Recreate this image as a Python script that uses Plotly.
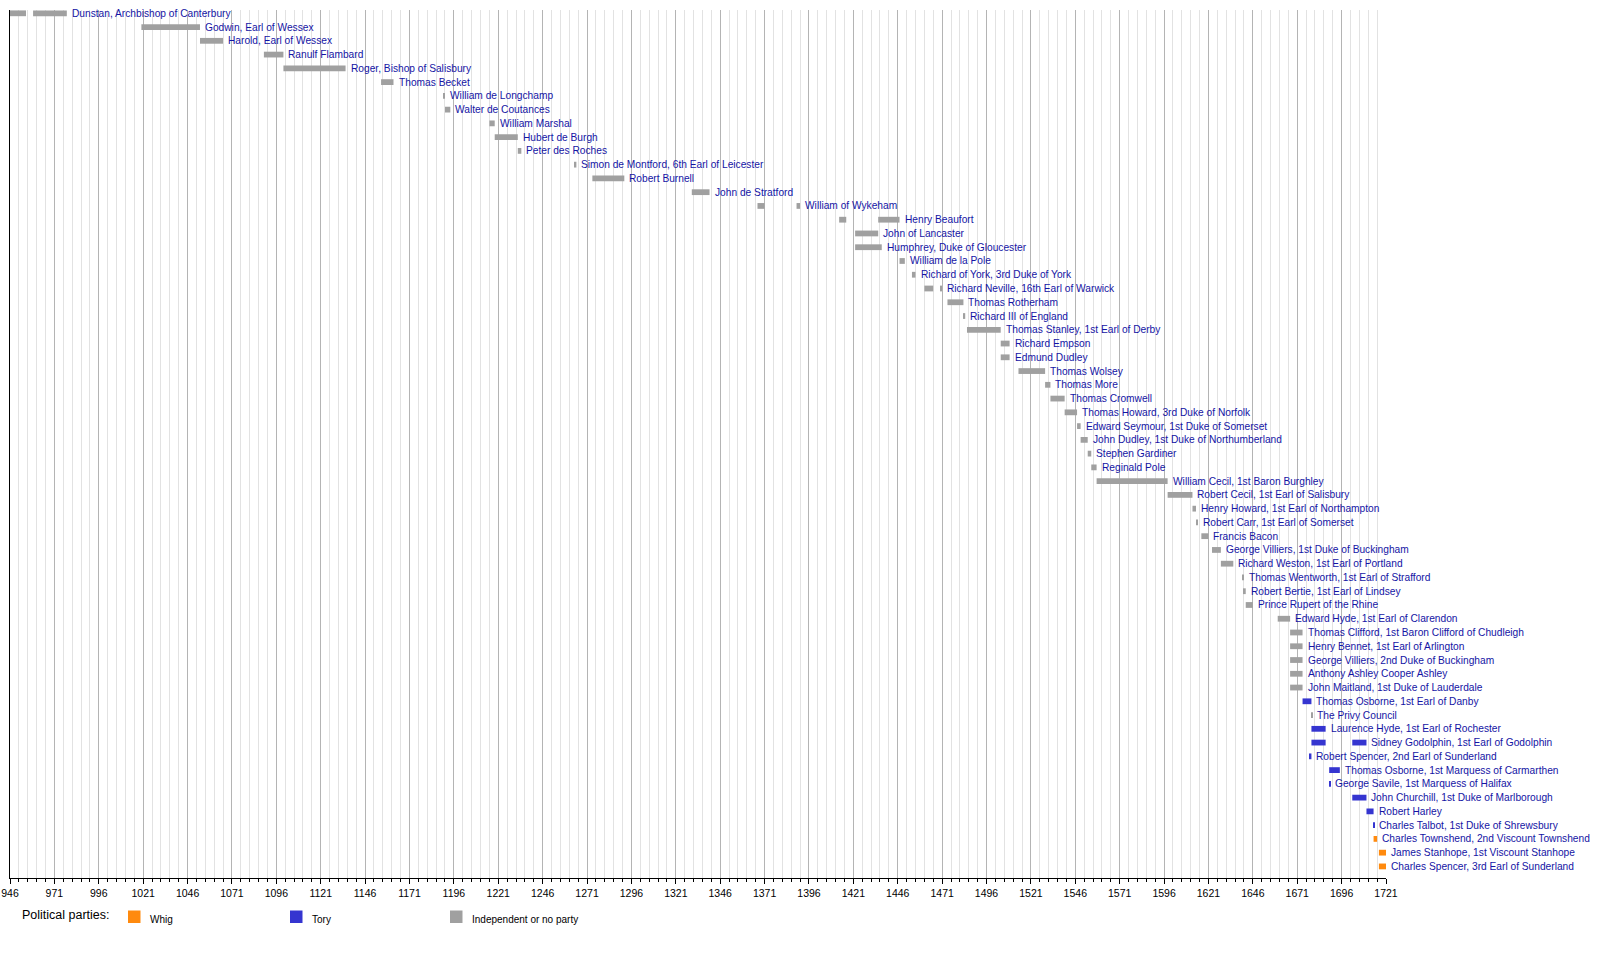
import plotly.graph_objects as go

# leaders, top to bottom; each has one or more terms (start, end) and a party
names = [
    "Dunstan, Archbishop of Canterbury", "Godwin, Earl of Wessex", "Harold, Earl of Wessex",
    "Ranulf Flambard", "Roger, Bishop of Salisbury", "Thomas Becket", "William de Longchamp",
    "Walter de Coutances", "William Marshal", "Hubert de Burgh", "Peter des Roches",
    "Simon de Montford, 6th Earl of Leicester", "Robert Burnell", "John de Stratford",
    "William of Wykeham", "Henry Beaufort", "John of Lancaster", "Humphrey, Duke of Gloucester",
    "William de la Pole", "Richard of York, 3rd Duke of York", "Richard Neville, 16th Earl of Warwick",
    "Thomas Rotherham", "Richard III of England", "Thomas Stanley, 1st Earl of Derby",
    "Richard Empson", "Edmund Dudley", "Thomas Wolsey", "Thomas More", "Thomas Cromwell",
    "Thomas Howard, 3rd Duke of Norfolk", "Edward Seymour, 1st Duke of Somerset",
    "John Dudley, 1st Duke of Northumberland", "Stephen Gardiner", "Reginald Pole",
    "William Cecil, 1st Baron Burghley", "Robert Cecil, 1st Earl of Salisbury",
    "Henry Howard, 1st Earl of Northampton", "Robert Carr, 1st Earl of Somerset", "Francis Bacon",
    "George Villiers, 1st Duke of Buckingham", "Richard Weston, 1st Earl of Portland",
    "Thomas Wentworth, 1st Earl of Strafford", "Robert Bertie, 1st Earl of Lindsey",
    "Prince Rupert of the Rhine", "Edward Hyde, 1st Earl of Clarendon",
    "Thomas Clifford, 1st Baron Clifford of Chudleigh", "Henry Bennet, 1st Earl of Arlington",
    "George Villiers, 2nd Duke of Buckingham", "Anthony Ashley Cooper Ashley",
    "John Maitland, 1st Duke of Lauderdale", "Thomas Osborne, 1st Earl of Danby",
    "The Privy Council", "Laurence Hyde, 1st Earl of Rochester",
    "Sidney Godolphin, 1st Earl of Godolphin", "Robert Spencer, 2nd Earl of Sunderland",
    "Thomas Osborne, 1st Marquess of Carmarthen", "George Savile, 1st Marquess of Halifax",
    "John Churchill, 1st Duke of Marlborough", "Robert Harley",
    "Charles Talbot, 1st Duke of Shrewsbury", "Charles Townshend, 2nd Viscount Townshend",
    "James Stanhope, 1st Viscount Stanhope", "Charles Spencer, 3rd Earl of Sunderland",
]

terms = [
    [(946, 955), (959, 978)], [(1020, 1053)], [(1053, 1066)], [(1089, 1100)], [(1100, 1135)],
    [(1155, 1162)], [(1190, 1191)], [(1191, 1194)], [(1216, 1219)], [(1219, 1232)],
    [(1232, 1234)], [(1264, 1265)], [(1274, 1292)], [(1330, 1340)],
    [(1367, 1371), (1389, 1391)], [(1413, 1417), (1435, 1447)], [(1422, 1435)], [(1422, 1437)],
    [(1447, 1450)], [(1454, 1456)], [(1461, 1466), (1470, 1471)], [(1474, 1483)],
    [(1483, 1484)], [(1485, 1504)], [(1504, 1509)], [(1504, 1509)], [(1514, 1529)],
    [(1529, 1532)], [(1532, 1540)], [(1540, 1547)], [(1547, 1549)], [(1549, 1553)],
    [(1553, 1555)], [(1555, 1558)], [(1558, 1598)], [(1598, 1612)], [(1612, 1614)],
    [(1614, 1615)], [(1617, 1621)], [(1623, 1628)], [(1628, 1635)], [(1640, 1641)],
    [(1641, 1642)], [(1642, 1646)], [(1660, 1667)], [(1667, 1674)], [(1667, 1674)],
    [(1667, 1674)], [(1667, 1674)], [(1667, 1674)], [(1674, 1679)], [(1679, 1679.4)],
    [(1679, 1687)], [(1679, 1687), (1702, 1710)], [(1678, 1679)], [(1689, 1695)],
    [(1689, 1689.6)], [(1702, 1710)], [(1710, 1714)], [(1714, 1714.5)], [(1714, 1716)],
    [(1717, 1721)], [(1717, 1721)],
]

parties = ["none"] * 50 + ["tory", "none", "tory", "tory", "tory", "tory", "tory",
                           "tory", "tory", "tory", "whig", "whig", "whig"]

party_colors = {"whig": "#ff8a0e", "tory": "#3535d0", "none": "#a0a0a0"}
party_labels = [("whig", "Whig"), ("tory", "Tory"), ("none", "Independent or no party")]

x_start, x_end = 946, 1721
FONT = "Liberation Sans, Arial, sans-serif"

# page geometry (pixels)
PL, PR, PT, PB = 10, 1386, 10, 878
ROW0, ROW_PX = 13.3, 13.76
W, H = PR - PL, PB - PT

fig = go.Figure()

for party in ["none", "tory", "whig"]:
    ys, bases, lens = [], [], []
    for i, (t, p) in enumerate(zip(terms, parties)):
        if p != party:
            continue
        for a, b in t:
            ys.append(i)
            bases.append(a)
            lens.append(b - a)
    fig.add_trace(go.Bar(
        y=ys, x=lens, base=bases, orientation="h",
        marker=dict(color=party_colors[party], line=dict(width=0)),
        width=0.42, showlegend=False, hoverinfo="skip",
    ))

# name labels after the last term
for i, (name, t) in enumerate(zip(names, terms)):
    fig.add_annotation(x=t[-1][1], y=i, text=name, showarrow=False,
                       xanchor="left", yanchor="middle", xshift=3,
                       font=dict(family=FONT, size=10.2, color="#1414a4"))

# legend for parties
fig.add_annotation(x=(20 - PL) / W, y=(PB - 915) / H, xref="paper", yref="paper",
                   text="Political parties:", showarrow=False,
                   xanchor="left", yanchor="middle",
                   font=dict(family=FONT, size=12.5, color="black"))
for (key, lab), px0, tx in zip(party_labels, [128, 290, 450], [148, 310, 470]):
    fig.add_shape(type="rect", xref="paper", yref="paper",
                  x0=(px0 - PL) / W, x1=(px0 + 12.5 - PL) / W,
                  y0=(PB - 923) / H, y1=(PB - 910.5) / H,
                  fillcolor=party_colors[key], line=dict(width=0))
    fig.add_annotation(x=(tx - PL) / W, y=(PB - 919) / H, xref="paper", yref="paper",
                       text=lab, showarrow=False, xanchor="left", yanchor="middle",
                       font=dict(family=FONT, size=10, color="black"))

fig.update_layout(
    width=1600, height=958,
    margin=dict(l=PL, r=1600 - PR, t=PT, b=958 - PB),
    plot_bgcolor="white", paper_bgcolor="white",
    barmode="overlay",
    font=dict(family=FONT, size=10, color="black"),
)
fig.update_xaxes(
    range=[x_start, x_end], tick0=946, dtick=25, automargin=False,
    showgrid=True, gridcolor="#b4b4b4", gridwidth=1,
    ticks="outside", ticklen=5, tickcolor="black",
    showline=True, linecolor="black", linewidth=1,
    zeroline=False,
    minor=dict(dtick=5, tick0=946, showgrid=True, gridcolor="#e2e2e2",
               ticks="outside", ticklen=3, tickcolor="black"),
    tickfont=dict(size=10.5),
)
fig.update_yaxes(
    range=[(PB - ROW0) / ROW_PX, (PT - ROW0) / ROW_PX], automargin=False,
    showgrid=False, zeroline=False, showticklabels=False,
    showline=True, linecolor="black", linewidth=1,
)

fig.write_html("out.html", config={"displayModeBar": False},
               post_script="document.body.style.margin='0';")
